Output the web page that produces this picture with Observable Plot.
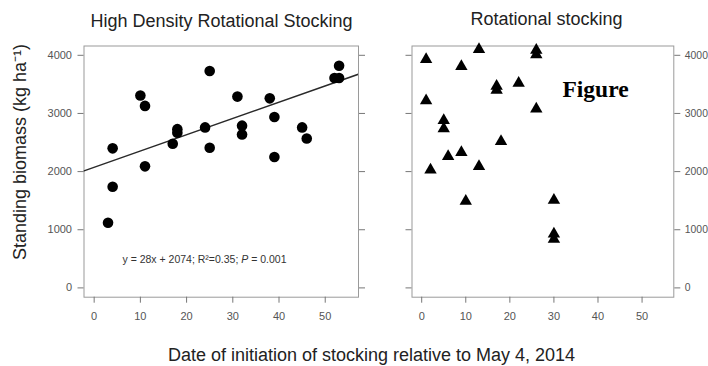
<!DOCTYPE html>
<html><head><meta charset="utf-8">
<script src="https://cdn.jsdelivr.net/npm/d3@7"></script>
<script src="https://cdn.jsdelivr.net/npm/@observablehq/plot@0.6"></script>
<style>
html,body{margin:0;padding:0;background:#fff;}
#wrap{position:relative;width:708px;height:366px;overflow:hidden;background:#fff;}
#wrap svg{position:absolute;left:0;top:0;background:transparent;}
</style></head><body><div id="wrap"></div>
<script>
// ---- data ----
const hdrDays    = [3, 4, 4, 10, 11, 11, 17, 18, 18, 24, 25, 25, 31, 32, 32, 38, 39, 39, 45, 46, 52, 53, 53];
const hdrBiomass = [1120, 1740, 2400, 3310, 3130, 2090, 2480, 2730, 2670, 2760, 3730, 2410, 3290, 2790, 2640, 3260, 2940, 2250, 2760, 2570, 3610, 3820, 3610];
const rotDays    = [1, 1, 2, 5, 5, 6, 9, 9, 10, 13, 13, 17, 17, 18, 22, 26, 26, 26, 30, 30, 30];
const rotBiomass = [3930, 3220, 2030, 2880, 2740, 2260, 3810, 2330, 1490, 4100, 2090, 3470, 3400, 2520, 3520, 4090, 4010, 3080, 1510, 930, 840];
const xTicks = [0, 10, 20, 30, 40, 50];
const yTicks = [0, 1000, 2000, 3000, 4000];
const xLimits = [0, 55];
const yLimits = [0, 4000];
const fitSlope = 28, fitIntercept = 2074;
const hdrTitle = "High Density Rotational Stocking";
const rotTitle = "Rotational stocking";
const yLabel = "Standing biomass (kg ha⁻¹)";
const xLabel = "Date of initiation of stocking relative to May 4, 2014";
const annPre = "y = 28x + 2074; R²=0.35; ", annItalic = "P", annPost = " = 0.001";
const annText = annPre + annItalic + annPost;
const stamp = "Figure";

// ---- build ----
const ext = (l) => { const d = (l[1] - l[0]) * 0.04; return [l[0] - d, l[1] + d]; };
const xDomain = ext(xLimits), yDomain = ext(yLimits);
const hdrData = hdrDays.map((d, i) => ({day: d, biomass: hdrBiomass[i]}));
const rotData = rotDays.map((d, i) => ({day: d, biomass: rotBiomass[i]}));
const fitLine = xDomain.map(x => ({x, y: fitSlope * x + fitIntercept}));
const FONT = "'Liberation Sans', Arial, Helvetica, sans-serif";
const W = 708, H = 366, MT = 45.5, MB = 69.3;
const fmt = d => String(d);

function axes() {
  return [
    Plot.frame({stroke: "#9a9a9a"}),
    Plot.axisX({ticks: xTicks, tickFormat: fmt, tickSize: 6, tickPadding: 9, label: null, stroke: "#777", fill: "#555"}),
  ];
}

const left = Plot.plot({
  width: W, height: H, marginLeft: 83.5, marginRight: 350, marginTop: MT, marginBottom: MB,
  x: {domain: xDomain}, y: {domain: yDomain},
  style: {fontFamily: FONT, fontSize: "11px", color: "#555", background: "transparent", overflow: "visible"},
  marks: [
    ...axes(),
    Plot.axisY({anchor: "left", ticks: yTicks, tickFormat: fmt, tickSize: 6, tickPadding: 6, label: null, stroke: "#777", fill: "#555"}),
    Plot.axisY({anchor: "right", ticks: yTicks, tickSize: 6, tickFormat: () => "", label: null, stroke: "#777"}),
    Plot.line(fitLine, {x: "x", y: "y", stroke: "#2a2a2a", strokeWidth: 1.5, clip: true}),
    Plot.dot(hdrData, {x: "day", y: "biomass", r: 5.3, fill: "#000"}),
    Plot.text([annText], {text: d => d, frameAnchor: "bottom", textAnchor: "middle", dx: -16.75, dy: -34, lineAnchor: "bottom", fontSize: 10.5, fill: "#333"}),
    Plot.text([hdrTitle], {text: d => d, frameAnchor: "top", textAnchor: "middle", dx: 0.3, dy: -18.8, lineAnchor: "bottom", fontSize: 18, fill: "#222"}),
    Plot.text([yLabel], {text: d => d, frameAnchor: "left", textAnchor: "middle", dx: -58.5, dy: -19.6, rotate: -90, lineAnchor: "bottom", fontSize: 18, fill: "#222"}),
    Plot.text([xLabel], {text: d => d, frameAnchor: "bottom", textAnchor: "middle", dx: 150.25, dy: 63.3, lineAnchor: "bottom", fontSize: 18, fill: "#222"})
  ]
});

const right = Plot.plot({
  width: W, height: H, marginLeft: 411.5, marginRight: 34.7, marginTop: MT, marginBottom: MB,
  x: {domain: xDomain}, y: {domain: yDomain},
  style: {fontFamily: FONT, fontSize: "11px", color: "#555", background: "transparent", overflow: "visible"},
  marks: [
    ...axes(),
    Plot.axisY({anchor: "right", ticks: yTicks, tickFormat: fmt, tickSize: 6, tickPadding: 5, fontSize: 10.4, label: null, stroke: "#777", fill: "#555"}),
    Plot.axisY({anchor: "left", ticks: yTicks, tickSize: 6, tickFormat: () => "", label: null, stroke: "#777"}),
    Plot.dot(rotData, {x: "day", y: "biomass", r: 4.6, symbol: "triangle", fill: "#000"}),
    Plot.text([rotTitle], {text: d => d, frameAnchor: "top", textAnchor: "middle", dx: 3.6, dy: -21.5, lineAnchor: "bottom", fontSize: 18, fill: "#222"}),
    Plot.text([stamp], {text: d => d, frameAnchor: "top", textAnchor: "middle", dx: 52.6, dy: 51.2, lineAnchor: "bottom", fontSize: 23.5, fontWeight: "bold", fontFamily: "'Liberation Serif', 'Times New Roman', serif", fill: "#000"})
  ]
});

const wrap = document.getElementById("wrap");
wrap.appendChild(left);
wrap.appendChild(right);

// italic P in the regression annotation
for (const t of left.querySelectorAll("text")) {
  if (t.textContent === annText) {
    t.textContent = "";
    t.setAttribute("style", "white-space:pre");
    const ns = "http://www.w3.org/2000/svg";
    [[annPre, false], [annItalic, true], [annPost, false]].forEach(([s, it]) => {
      const sp = document.createElementNS(ns, "tspan");
      sp.textContent = s;
      if (it) sp.setAttribute("font-style", "italic");
      t.appendChild(sp);
    });
  }
}
</script></body></html>
